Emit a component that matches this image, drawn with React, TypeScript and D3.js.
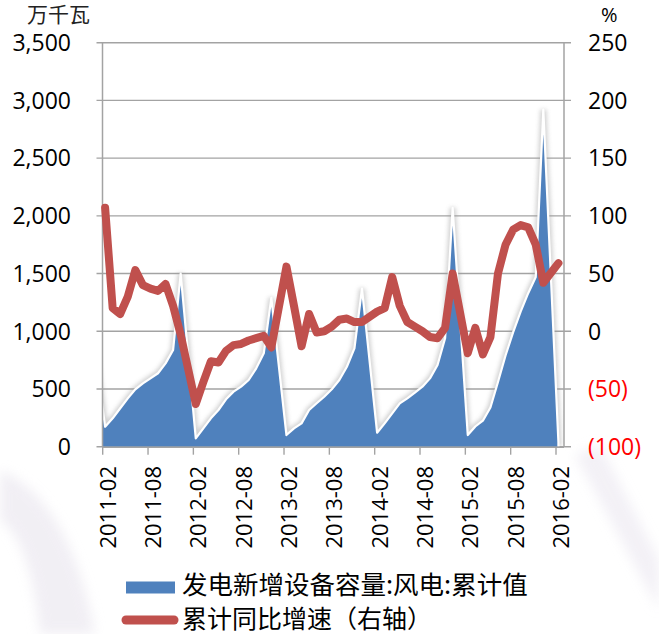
import React from "react";
import * as d3 from "d3";

// ---- data ----
const months = [
  "2010-12",
  "2011-02", "2011-03", "2011-04", "2011-05", "2011-06", "2011-07", "2011-08", "2011-09", "2011-10", "2011-11", "2011-12",
  "2012-02", "2012-03", "2012-04", "2012-05", "2012-06", "2012-07", "2012-08", "2012-09", "2012-10", "2012-11", "2012-12",
  "2013-02", "2013-03", "2013-04", "2013-05", "2013-06", "2013-07", "2013-08", "2013-09", "2013-10", "2013-11", "2013-12",
  "2014-02", "2014-03", "2014-04", "2014-05", "2014-06", "2014-07", "2014-08", "2014-09", "2014-10", "2014-11", "2014-12",
  "2015-02", "2015-03", "2015-04", "2015-05", "2015-06", "2015-07", "2015-08", "2015-09", "2015-10", "2015-11", "2015-12",
  "2016-02",
];

// 发电新增设备容量:风电:累计值 (万千瓦)
const capacity = [
  1150,
  173, 246, 333, 419, 497, 549, 592, 636, 722, 838, 1500,
  72, 159, 246, 318, 411, 477, 520, 578, 679, 809, 1290,
  101, 159, 202, 318, 376, 433, 497, 578, 693, 852, 1370,
  121, 202, 289, 376, 419, 468, 520, 592, 708, 939, 2070,
  101, 175, 225, 340, 560, 790, 990, 1170, 1330, 1470, 2920,
  40,
];

// 累计同比增速 (%)
const growth: (number | null)[] = [
  null,
  107, 20, 15, 30, 53, 40, 37, 35, 41, 22, -3,
  -63, -44, -26, -27, -17, -12, -11, -8, -6, -4, -14,
  56, 22, -13, 15, -1, 0, 4, 10, 11, 8, 8,
  17, 20, 47, 22, 8, 4, 0, -5, -6, 3, 50,
  -19, 3, -20, -5, 50, 75, 88, 92, 90, 75, 42,
  59,
];

const xTickLabels = [
  "2011-02", "2011-08", "2012-02", "2012-08", "2013-02", "2013-08",
  "2014-02", "2014-08", "2015-02", "2015-08", "2016-02",
];
const leftTicks = [0, 500, 1000, 1500, 2000, 2500, 3000, 3500];
const rightTicks = [-100, -50, 0, 50, 100, 150, 200, 250];
const leftUnit = "万千瓦";
const rightUnit = "%";
const legendLabels = ["发电新增设备容量:风电:累计值", "累计同比增速（右轴）"];

// ---- layout / style ----
const W = 659;
const H = 634;
const P = { left: 102.5, right: 564, top: 42.7, bottom: 446.7 };
const BLUE = "#4F81BD";
const RED = "#C0504D";
const GRID = "#a3a3a3";
const NUM_FONT = "'Open Sans', 'Liberation Sans', sans-serif";
const CJK_FONT = "'Noto Sans CJK SC', 'Noto Sans', sans-serif";

const monthIndex = (s: string) => {
  const [y, m] = s.split("-").map(Number);
  return (y - 2011) * 12 + (m - 2);
};

export default function App() {
  const x = d3.scaleLinear().domain([0, 60]).range([102.7, 556]);
  const yL = d3.scaleLinear().domain([0, 3500]).range([P.bottom, P.top]);
  const yR = d3.scaleLinear().domain([-100, 250]).range([P.bottom, P.top]);
  const shift = 0.32;

  const pts = months.map((m, i) => ({
    xi: monthIndex(m) + shift,
    c: capacity[i],
    g: growth[i],
  }));

  const area = d3
    .area<any>()
    .x((d) => x(d.xi))
    .y0(yL(0))
    .y1((d) => yL(d.c));
  const topLine = d3
    .line<any>()
    .x((d) => x(d.xi))
    .y((d) => yL(d.c));
  const last = pts[pts.length - 1];
  const topPath = (topLine(pts) || "") + `L${x(last.xi)},${yL(0)}`;
  const redLine = d3
    .line<any>()
    .defined((d) => d.g != null)
    .x((d) => x(d.xi))
    .y((d) => yR(d.g));

  const fmtL = d3.format(",");

  return (
    <svg
      width={W}
      height={H}
      style={{ position: "absolute", left: 0, top: 0, background: "#fff" }}
    >
      <defs>
        <clipPath id="plotClip">
          <rect x={P.left} y={0} width={P.right - P.left} height={P.bottom} />
        </clipPath>
        <filter id="halo" x="-10%" y="-10%" width="120%" height="120%">
          <feGaussianBlur stdDeviation="2" />
        </filter>
        <filter id="soft" x="-10%" y="-10%" width="120%" height="120%">
          <feGaussianBlur stdDeviation="0.5" />
        </filter>
        <filter id="wm" x="-20%" y="-20%" width="140%" height="140%">
          <feGaussianBlur stdDeviation="6" />
        </filter>
      </defs>

      {/* faint watermark swooshes */}
      <g filter="url(#wm)" opacity={0.55}>
        <path d="M0,470 Q70,500 95,634 L40,634 Q30,540 0,520 Z" fill="#e6e2ec" />
        <path d="M575,455 L600,445 L659,560 L659,610 Z" fill="#e9e5ef" />
      </g>

      {/* gridlines */}
      {leftTicks.map((t) => (
        <line
          key={"g" + t}
          x1={P.left - 6}
          x2={P.right + 7}
          y1={yL(t)}
          y2={yL(t)}
          stroke={GRID}
          strokeWidth={1.4}
        />
      ))}
      {/* x ticks */}
      {xTickLabels.map((s) => (
        <line
          key={"xt" + s}
          x1={x(monthIndex(s))}
          x2={x(monthIndex(s))}
          y1={P.bottom}
          y2={P.bottom + 8}
          stroke={GRID}
          strokeWidth={1.4}
        />
      ))}

      {/* area with glow */}
      <g clipPath="url(#plotClip)">
        <path
          d={topPath}
          fill="none"
          stroke="#9a9a9a"
          strokeWidth={6}
          opacity={0.45}
          filter="url(#halo)"
        />
        <path d={area(pts) || ""} fill={BLUE} />
        <path
          d={topPath}
          fill="none"
          stroke="#ffffff"
          strokeWidth={2.2}
          strokeLinejoin="round"
          filter="url(#soft)"
        />
      </g>

      {/* axes lines */}
      <line x1={P.left} x2={P.left} y1={P.top} y2={P.bottom} stroke={GRID} strokeWidth={1.5} />
      <line x1={P.right} x2={P.right} y1={P.top} y2={P.bottom} stroke={GRID} strokeWidth={1.5} />
      <line x1={P.left} x2={P.right} y1={P.bottom + 0.5} y2={P.bottom + 0.5} stroke={GRID} strokeWidth={1.5} />

      {/* red line */}
      <path
        d={redLine(pts) || ""}
        fill="none"
        stroke={RED}
        strokeWidth={8}
        strokeLinejoin="round"
        strokeLinecap="round"
      />

      {/* left tick labels */}
      {leftTicks.map((t) => (
        <text
          key={"lt" + t}
          x={71}
          y={yL(t)}
          dy="0.36em"
          textAnchor="end"
          fontFamily={NUM_FONT}
          fontSize={23}
          fill="#000"
        >
          {fmtL(t)}
        </text>
      ))}
      {/* right tick labels */}
      {rightTicks.map((t) => (
        <text
          key={"rt" + t}
          x={588}
          y={yR(t)}
          dy="0.36em"
          textAnchor="start"
          fontFamily={NUM_FONT}
          fontSize={23}
          fill={t < 0 ? "#FF0000" : "#000"}
        >
          {t < 0 ? `(${-t})` : String(t)}
        </text>
      ))}
      {/* x tick labels */}
      {xTickLabels.map((s) => {
        const tx = x(monthIndex(s)) + 13;
        return (
          <text
            key={"xl" + s}
            transform={`translate(${tx},${466}) rotate(-90)`}
            textAnchor="end"
            fontFamily={NUM_FONT}
            fontSize={22}
            fill="#000"
          >
            {s}
          </text>
        );
      })}

      {/* units */}
      <text x={27} y={22} fontFamily={CJK_FONT} fontSize={21} fill="#222">
        {leftUnit}
      </text>
      <text x={601} y={22} fontFamily={NUM_FONT} fontSize={20} fill="#000">
        {rightUnit}
      </text>

      {/* legend */}
      <rect x={126} y={581.5} width={49} height={12} fill={BLUE} />
      <text x={182} y={594} fontFamily={CJK_FONT} fontSize={25.5} fill="#000">
        {legendLabels[0]}
      </text>
      <line
        x1={126}
        x2={174}
        y1={620}
        y2={620}
        stroke={RED}
        strokeWidth={9}
        strokeLinecap="round"
      />
      <text x={182} y={628} fontFamily={CJK_FONT} fontSize={25} fill="#000">
        {legendLabels[1]}
      </text>
    </svg>
  );
}
